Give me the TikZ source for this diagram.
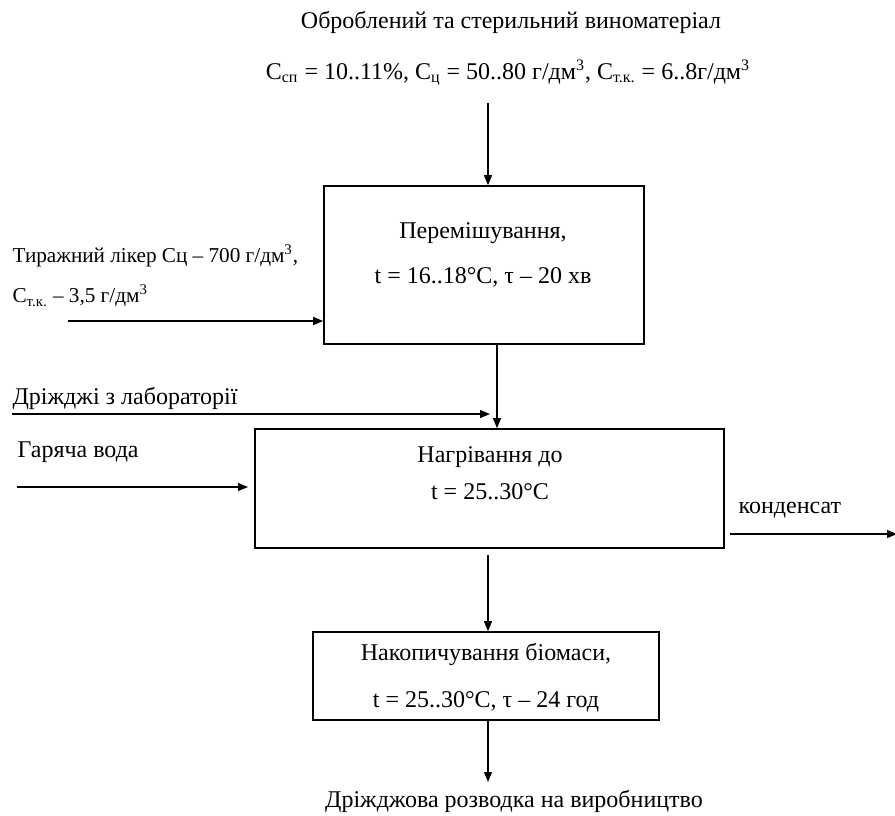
\documentclass[tikz,border=0pt]{standalone}
\usepackage{fontspec}
\setmainfont{Liberation Serif}
\usetikzlibrary{arrows.meta}
\usetikzlibrary{positioning}

\begin{document}
\begin{tikzpicture}[x=0.5pt, y=-0.5pt, ->, >={Triangle[length=5pt,width=4pt]}, line width=0.6pt,
    box/.style = {draw, -, line width=0.8pt, inner sep=0pt},
    txt/.style = {inner sep=0pt, align=center, font=\fontsize{12}{14}\selectfont},
    small/.style = {inner sep=0pt, anchor=west, font=\fontsize{10.6}{12}\selectfont}]
    \useasboundingbox (0,0) rectangle (895,815);
    % Nodes

    \node[txt] (src1) at (511,22) {Оброблений та стерильний виноматеріал};
    \node[txt] (src2) at (508,73) {C\textsubscript{сп} = 10..11\%, C\textsubscript{ц} = 50..80 г/дм\textsuperscript{3}, C\textsubscript{т.к.} = 6..8г/дм\textsuperscript{3}};

    \node[box, minimum width=160pt, minimum height=79pt] (mix) at (484,265) {};
    \node[txt] (mixtxt) at (483,255) {Перемішування,\\[8.5pt] t = 16..18°C, τ – 20 хв};

    \node[small] (lik1) at (12,256) {Тиражний лікер Сц – 700 г/дм\textsuperscript{3},};
    \node[small] (lik2) at (12,296) {C\textsubscript{т.к.} – 3,5 г/дм\textsuperscript{3}};

    \node[txt, anchor=west] (lab) at (12,398) {Дріжджі з лабораторії};
    \node[txt, anchor=west] (water) at (17,452) {Гаряча вода};

    \node[box, minimum width=234.5pt, minimum height=59.5pt] (heat) at (489.5,488.5) {};
    \node[txt] (heattxt) at (490,473) {Нагрівання до\\[4.5pt] t = 25..30°C};

    \node[txt, anchor=west] (cond) at (738,510) {конденсат};

    \node[box, minimum width=173pt, minimum height=44pt] (acc) at (486,676) {};
    \node[txt] (acctxt) at (486,678) {Накопичування біомаси,\\[9.5pt] t = 25..30°C, τ – 24 год};

    \node[txt] (out) at (514,801) {Дріжджова розводка на виробництво};

    \coordinate (t0) at (488,103);
    \coordinate (l0) at (68,321);
    \coordinate (m0) at (497,344);
    \coordinate (d0) at (12,414);
    \coordinate (d1) at (490,414);
    \coordinate (w0) at (17,487);
    \coordinate (w1) at (248,487);
    \coordinate (c0) at (730,534);
    \coordinate (c1) at (897,534);
    \coordinate (h0) at (488,555);
    \coordinate (o1) at (488,782);

    % Edges

    \draw (t0) -- (t0 |- mix.north);
    \draw (l0) -- (l0 -| mix.west);
    \draw (m0 |- mix.south) -- (m0 |- heat.north);
    \draw (d0) -- (d1);
    \draw (w0) -- (w1);
    \draw (c0) -- (c1);
    \draw (h0) -- (h0 |- acc.north);
    \draw (h0 |- acc.south) -- (o1);

\end{tikzpicture}
\end{document}
